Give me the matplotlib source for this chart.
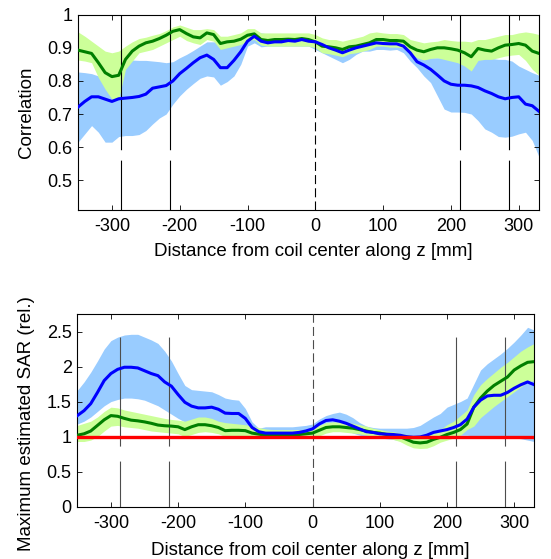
import numpy as np
import matplotlib
matplotlib.use("Agg")
import matplotlib.pyplot as plt

plt.rcParams['font.family'] = ['Liberation Sans', 'DejaVu Sans']
plt.rcParams['axes.unicode_minus'] = False
plt.rcParams['lines.scale_dashes'] = False

# positions along z [mm]
z = list(range(-350, 331, 10))

# --- correlation (top) ---
corr_green = [0.893, 0.888, 0.883, 0.855, 0.825, 0.813, 0.817, 0.865, 0.890, 0.905,
              0.915, 0.920, 0.928, 0.938, 0.950, 0.955, 0.943, 0.933, 0.930, 0.945,
              0.940, 0.913, 0.918, 0.920, 0.926, 0.938, 0.942, 0.925, 0.922, 0.925,
              0.925, 0.926, 0.925, 0.928, 0.925, 0.918, 0.905, 0.903, 0.900, 0.895,
              0.903, 0.905, 0.910, 0.915, 0.925, 0.925, 0.922, 0.922, 0.920, 0.903,
              0.893, 0.888, 0.895, 0.900, 0.900, 0.897, 0.893, 0.885, 0.873, 0.898,
              0.893, 0.890, 0.900, 0.908, 0.910, 0.913, 0.908, 0.890, 0.883]
corr_green_hi = [0.948, 0.935, 0.920, 0.905, 0.890, 0.885, 0.890, 0.905, 0.918, 0.928,
                 0.932, 0.938, 0.943, 0.952, 0.963, 0.969, 0.962, 0.955, 0.955, 0.958,
                 0.955, 0.935, 0.935, 0.940, 0.945, 0.958, 0.958, 0.945, 0.945, 0.945,
                 0.945, 0.945, 0.945, 0.945, 0.945, 0.940, 0.930, 0.925, 0.925, 0.920,
                 0.925, 0.930, 0.935, 0.945, 0.948, 0.945, 0.943, 0.943, 0.940, 0.925,
                 0.920, 0.915, 0.918, 0.920, 0.925, 0.922, 0.920, 0.920, 0.918, 0.925,
                 0.925, 0.930, 0.935, 0.940, 0.940, 0.945, 0.948, 0.945, 0.940]
corr_green_lo = [0.863, 0.860, 0.855, 0.810, 0.775, 0.745, 0.745, 0.835, 0.860, 0.885,
                 0.890, 0.895, 0.905, 0.915, 0.925, 0.935, 0.922, 0.915, 0.910, 0.925,
                 0.920, 0.895, 0.900, 0.905, 0.910, 0.922, 0.925, 0.908, 0.905, 0.905,
                 0.905, 0.905, 0.905, 0.905, 0.905, 0.900, 0.885, 0.882, 0.878, 0.873,
                 0.882, 0.885, 0.890, 0.895, 0.905, 0.905, 0.902, 0.902, 0.900, 0.883,
                 0.870, 0.863, 0.868, 0.870, 0.865, 0.860, 0.855, 0.845, 0.830, 0.862,
                 0.865, 0.865, 0.870, 0.875, 0.878, 0.880, 0.862, 0.835, 0.817]
corr_blue = [0.721, 0.738, 0.752, 0.752, 0.745, 0.738, 0.746, 0.748, 0.750, 0.753,
             0.760, 0.778, 0.782, 0.786, 0.800, 0.822, 0.838, 0.855, 0.870, 0.878,
             0.865, 0.840, 0.840, 0.862, 0.888, 0.920, 0.935, 0.920, 0.915, 0.918,
             0.918, 0.922, 0.920, 0.925, 0.920, 0.918, 0.910, 0.900, 0.893, 0.885,
             0.893, 0.900, 0.905, 0.910, 0.915, 0.913, 0.912, 0.912, 0.905, 0.885,
             0.858, 0.848, 0.835, 0.818, 0.800, 0.790, 0.787, 0.787, 0.785, 0.780,
             0.770, 0.762, 0.752, 0.746, 0.750, 0.752, 0.730, 0.725, 0.708]
corr_blue_hi = [0.827, 0.825, 0.822, 0.815, 0.805, 0.800, 0.840, 0.862, 0.863, 0.862,
                0.862, 0.860, 0.858, 0.855, 0.858, 0.870, 0.880, 0.892, 0.905, 0.918,
                0.918, 0.918, 0.918, 0.922, 0.935, 0.948, 0.948, 0.945, 0.942, 0.942,
                0.942, 0.942, 0.942, 0.942, 0.942, 0.935, 0.928, 0.920, 0.915, 0.910,
                0.912, 0.915, 0.920, 0.925, 0.930, 0.930, 0.930, 0.930, 0.925, 0.905,
                0.885, 0.873, 0.870, 0.870, 0.870, 0.870, 0.870, 0.870, 0.870, 0.870,
                0.870, 0.868, 0.865, 0.865, 0.860, 0.845, 0.835, 0.825, 0.817]
corr_blue_lo = [0.615, 0.640, 0.665, 0.645, 0.615, 0.615, 0.632, 0.635, 0.635, 0.638,
                0.650, 0.670, 0.688, 0.700, 0.730, 0.755, 0.775, 0.792, 0.808, 0.815,
                0.812, 0.787, 0.798, 0.815, 0.850, 0.905, 0.915, 0.903, 0.905, 0.905,
                0.905, 0.905, 0.905, 0.905, 0.905, 0.895, 0.885, 0.875, 0.865, 0.855,
                0.865, 0.880, 0.890, 0.890, 0.895, 0.895, 0.893, 0.895, 0.885, 0.860,
                0.840, 0.815, 0.795, 0.755, 0.715, 0.706, 0.706, 0.705, 0.700, 0.680,
                0.655, 0.645, 0.632, 0.630, 0.633, 0.640, 0.645, 0.620, 0.570]

# --- max estimated SAR (bottom) ---
sar_green = [1.02, 1.04, 1.08, 1.16, 1.24, 1.30, 1.29, 1.26, 1.235, 1.225,
             1.21, 1.19, 1.165, 1.155, 1.15, 1.14, 1.10, 1.14, 1.17, 1.17,
             1.155, 1.13, 1.085, 1.09, 1.09, 1.085, 1.05, 1.035, 1.02, 1.02,
             1.02, 1.02, 1.02, 1.03, 1.04, 1.05, 1.09, 1.13, 1.14, 1.14,
             1.13, 1.12, 1.10, 1.08, 1.06, 1.05, 1.03, 1.02, 1.00, 0.96,
             0.92, 0.91, 0.92, 0.96, 0.99, 1.03, 1.06, 1.10, 1.18, 1.42,
             1.55, 1.65, 1.73, 1.79, 1.85, 1.95, 2.01, 2.06, 2.07]
sar_green_hi = [1.16, 1.19, 1.22, 1.28, 1.36, 1.42, 1.41, 1.38, 1.36, 1.34,
                1.32, 1.30, 1.28, 1.26, 1.245, 1.235, 1.22, 1.25, 1.28, 1.28,
                1.26, 1.22, 1.20, 1.19, 1.18, 1.17, 1.15, 1.13, 1.11, 1.10,
                1.10, 1.10, 1.10, 1.10, 1.10, 1.12, 1.16, 1.20, 1.21, 1.21,
                1.20, 1.19, 1.17, 1.15, 1.12, 1.10, 1.08, 1.07, 1.05, 1.03,
                1.01, 1.01, 1.02, 1.05, 1.10, 1.17, 1.22, 1.30, 1.38, 1.60,
                1.74, 1.83, 1.91, 1.99, 2.06, 2.14, 2.22, 2.28, 2.33]
sar_green_lo = [0.93, 0.93, 0.95, 1.00, 1.08, 1.15, 1.16, 1.14, 1.13, 1.12,
                1.10, 1.08, 1.07, 1.06, 1.05, 1.04, 1.00, 1.03, 1.06, 1.07,
                1.06, 1.04, 1.00, 1.00, 1.00, 0.995, 0.99, 0.985, 0.98, 0.98,
                0.98, 0.98, 0.98, 0.98, 0.98, 0.99, 1.01, 1.05, 1.07, 1.07,
                1.06, 1.05, 1.04, 1.02, 1.01, 1.00, 0.98, 0.96, 0.93, 0.88,
                0.84, 0.83, 0.835, 0.87, 0.92, 0.95, 0.98, 1.02, 1.10, 1.15,
                1.27, 1.35, 1.43, 1.50, 1.57, 1.64, 1.71, 1.78, 1.80]
sar_blue = [1.30, 1.37, 1.47, 1.63, 1.80, 1.90, 1.96, 1.99, 1.99, 1.98,
            1.94, 1.90, 1.87, 1.78, 1.72, 1.60, 1.49, 1.435, 1.41, 1.41,
            1.42, 1.39, 1.335, 1.33, 1.33, 1.26, 1.13, 1.07, 1.05, 1.05,
            1.05, 1.05, 1.05, 1.06, 1.08, 1.11, 1.18, 1.23, 1.24, 1.22,
            1.19, 1.15, 1.11, 1.07, 1.06, 1.04, 1.035, 1.03, 1.02, 1.00,
            0.99, 0.995, 1.02, 1.06, 1.08, 1.10, 1.13, 1.17, 1.25, 1.42,
            1.52, 1.58, 1.59, 1.59, 1.63, 1.69, 1.74, 1.78, 1.74]
sar_blue_hi = [1.66, 1.78, 1.92, 2.08, 2.25, 2.37, 2.42, 2.45, 2.46, 2.46,
               2.42, 2.38, 2.33, 2.22, 2.08, 1.90, 1.73, 1.67, 1.66, 1.65,
               1.64, 1.60, 1.55, 1.53, 1.52, 1.40, 1.21, 1.12, 1.14, 1.14,
               1.14, 1.14, 1.14, 1.15, 1.16, 1.18, 1.25, 1.30, 1.33, 1.35,
               1.32, 1.27, 1.20, 1.15, 1.13, 1.12, 1.12, 1.12, 1.12, 1.12,
               1.13, 1.16, 1.22, 1.28, 1.33, 1.42, 1.46, 1.50, 1.55, 1.75,
               1.95, 2.04, 2.11, 2.18, 2.26, 2.35, 2.45, 2.56, 2.52]
sar_blue_lo = [1.18, 1.22, 1.28, 1.36, 1.44, 1.50, 1.53, 1.55, 1.55, 1.54,
               1.52, 1.48, 1.44, 1.38, 1.32, 1.26, 1.21, 1.18, 1.17, 1.17,
               1.16, 1.12, 1.10, 1.10, 1.10, 1.06, 1.00, 0.98, 0.98, 0.98,
               0.98, 0.98, 0.98, 0.98, 1.00, 1.04, 1.08, 1.12, 1.13, 1.12,
               1.09, 1.05, 1.02, 1.00, 0.99, 0.98, 0.97, 0.96, 0.94, 0.92,
               0.91, 0.92, 0.94, 0.96, 0.98, 1.00, 1.01, 1.02, 1.02, 1.01,
               1.00, 0.99, 0.99, 0.99, 0.99, 0.98, 0.97, 0.95, 0.93]

coil_edges = [-286, -214, 214, 286]
coil_center = 0
xticks = [-300, -200, -100, 0, 100, 200, 300]

GREEN = '#007f00'
BLUE = '#0000ff'
GREEN_FILL = '#ccff99'
BLUE_FILL = '#99ccff'

fig = plt.figure(figsize=(5.51, 5.59), dpi=100)
ax1 = fig.add_axes([0.1416, 0.6243, 0.8367, 0.3494])
ax2 = fig.add_axes([0.1403, 0.0936, 0.8294, 0.3447])


def style_axes(ax, label_y):
    ax.tick_params(direction='in', top=True, right=True, length=3.5, width=0.6,
                   labelsize=13, pad=4)
    ax.tick_params(axis='x', pad=6)
    for s in ax.spines.values():
        s.set_linewidth(0.8)
    ax.set_xlim(-350, 330)
    ax.set_xticks(xticks)
    ax.set_xticklabels([str(t) for t in xticks])
    ax.set_xlabel('Distance from coil center along z [mm]', fontsize=13.5, labelpad=2)
    ax.xaxis.set_label_coords(0.51, label_y)


# top panel
ax1.fill_between(z, corr_blue_lo, corr_blue_hi, color=BLUE_FILL, lw=0, zorder=1)
ax1.fill_between(z, corr_green_lo, corr_green_hi, color=GREEN_FILL, lw=0, zorder=2)
for xe in coil_edges:
    ax1.plot([xe, xe], [1.0, 0.41], color='black', lw=0.8, dashes=(97, 7.5, 60, 10), zorder=3)
ax1.axvline(coil_center, color='black', lw=0.8, dashes=(6.5, 3), zorder=3)
ax1.plot(z, corr_green, color=GREEN, lw=2.2, zorder=4)
ax1.plot(z, corr_blue, color=BLUE, lw=2.2, zorder=5)
ax1.set_ylim(0.41, 1.0)
ax1.set_yticks([0.5, 0.6, 0.7, 0.8, 0.9, 1.0])
ax1.set_yticklabels(['0.5', '0.6', '0.7', '0.8', '0.9', '1'])
ax1.set_ylabel('Correlation', fontsize=13.5)
style_axes(ax1, -0.17)
ax1.yaxis.set_label_coords(-0.093, 0.5)

# bottom panel
ax2.fill_between(z, sar_blue_lo, sar_blue_hi, color=BLUE_FILL, lw=0, zorder=1)
ax2.fill_between(z, sar_green_lo, sar_green_hi, color=GREEN_FILL, lw=0, zorder=2)
for xe in coil_edges:
    ax2.plot([xe, xe], [2.75, 0.0], color='#4d4d4d', lw=0.8,
             dashes=(0, 16.6, 78.5, 10.8, 60, 10), zorder=3)
ax2.axvline(coil_center, color='#4d4d4d', lw=0.8, dashes=(6.5, 3), zorder=3)
ax2.plot(z, sar_green, color=GREEN, lw=2.2, zorder=4)
ax2.plot(z, sar_blue, color=BLUE, lw=2.2, zorder=5)
ax2.axhline(1.0, color='#ff0000', lw=2.4, zorder=6)
ax2.set_ylim(0, 2.75)
ax2.set_yticks([0, 0.5, 1, 1.5, 2, 2.5])
ax2.set_yticklabels(['0', '0.5', '1', '1.5', '2', '2.5'])
ax2.set_ylabel('Maximum estimated SAR (rel.)', fontsize=13.5)
style_axes(ax2, -0.185)
ax2.yaxis.set_label_coords(-0.093, 0.43)

fig.savefig('out.png', dpi=100)
